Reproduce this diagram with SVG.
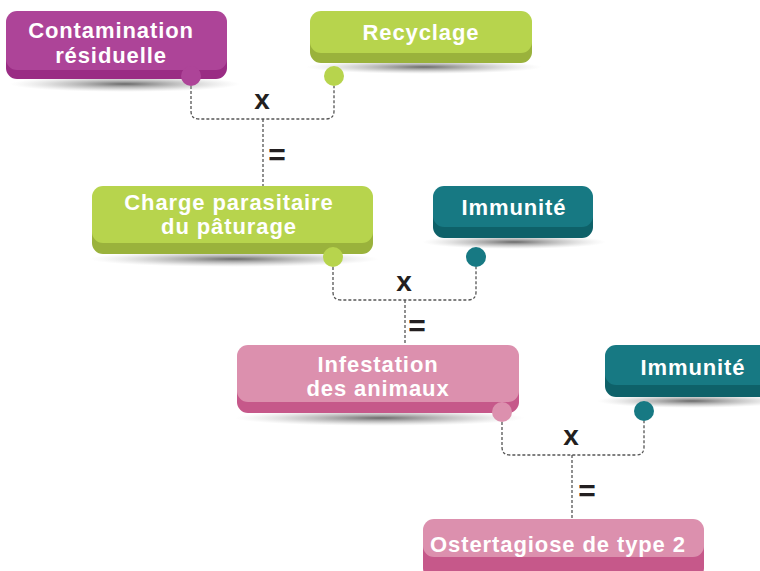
<svg xmlns="http://www.w3.org/2000/svg" width="760" height="571" viewBox="0 0 760 571">
<defs>
<radialGradient id="sh" cx="0.5" cy="0.5" r="0.5">
<stop offset="0" stop-color="#444" stop-opacity="0.8"/>
<stop offset="0.6" stop-color="#888" stop-opacity="0.35"/>
<stop offset="1" stop-color="#bbb" stop-opacity="0"/>
</radialGradient>
<style>
.t{font-family:"Liberation Sans",Arial,sans-serif;font-weight:bold;font-size:22px;fill:#fff;text-anchor:middle;letter-spacing:0.9px}
.op{font-family:"Liberation Sans",Arial,sans-serif;font-weight:bold;fill:#231f20;text-anchor:middle}
.c{fill:none;stroke:#555;stroke-width:1.3;stroke-dasharray:3 2}
.mT{fill:#ad4498}.mD{fill:#9a2c84}
.gT{fill:#b7d44d}.gD{fill:#9ab23c}
.tT{fill:#177983}.tD{fill:#0e6169}
.pT{fill:#dc90ae}.pD{fill:#c6588a}
</style>
</defs>
<rect width="760" height="571" fill="#fff"/>
<g id="connectors">
<path class="c" d="M191 86 V111 Q191 119 199 119 H326 Q334 119 334 111 V86 M263 119 V186"/>
<path class="c" d="M333 267 V292 Q333 300 341 300 H468 Q476 300 476 292 V267 M405 300 V345"/>
<path class="c" d="M502 422 V447 Q502 455 510 455 H636 Q644 455 644 447 V421 M572 455 V519"/>
<text class="op" x="262" y="109" font-size="28">x</text>
<text class="op" x="277" y="165" font-size="30">=</text>
<text class="op" x="404" y="291" font-size="28">x</text>
<text class="op" x="417" y="336" font-size="30">=</text>
<text class="op" x="571" y="445" font-size="28">x</text>
<text class="op" x="587" y="501" font-size="30">=</text>
</g>
<g id="contamination">
<ellipse cx="125" cy="84" rx="115" ry="8" fill="url(#sh)"/>
<rect class="mD" x="6" y="15" width="221" height="64" rx="11"/>
<rect class="mT" x="6" y="11" width="221" height="59" rx="11"/>
<circle class="mT" cx="191" cy="76" r="10"/>
<text class="t" x="111" y="38">Contamination</text>
<text class="t" x="111" y="63">résiduelle</text>
</g>
<g id="recyclage">
<ellipse cx="424" cy="67" rx="118" ry="7" fill="url(#sh)"/>
<rect class="gD" x="310" y="15" width="222" height="48" rx="11"/>
<rect class="gT" x="310" y="11" width="222" height="42" rx="11"/>
<circle class="gT" cx="334" cy="76" r="10"/>
<text class="t" x="421" y="40">Recyclage</text>
</g>
<g id="charge">
<ellipse cx="234" cy="259" rx="145" ry="8" fill="url(#sh)"/>
<rect class="gD" x="92" y="190" width="281" height="64" rx="11"/>
<rect class="gT" x="92" y="186" width="281" height="57" rx="11"/>
<circle class="gT" cx="333" cy="257" r="10"/>
<text class="t" x="229" y="210">Charge parasitaire</text>
<text class="t" x="229" y="234">du pâturage</text>
</g>
<g id="immunite1">
<ellipse cx="514" cy="242" rx="92" ry="7" fill="url(#sh)"/>
<rect class="tD" x="433" y="190" width="160" height="48" rx="11"/>
<rect class="tT" x="433" y="186" width="160" height="41" rx="11"/>
<circle class="tT" cx="476" cy="257" r="10"/>
<text class="t" x="514" y="215">Immunité</text>
</g>
<g id="infestation">
<ellipse cx="380" cy="418" rx="145" ry="8" fill="url(#sh)"/>
<rect class="pD" x="237" y="349" width="282" height="64" rx="11"/>
<rect class="pT" x="237" y="345" width="282" height="57" rx="11"/>
<circle class="pT" cx="502" cy="412" r="10"/>
<text class="t" x="378" y="372">Infestation</text>
<text class="t" x="378" y="396">des animaux</text>
</g>
<g id="immunite2">
<ellipse cx="692" cy="401" rx="95" ry="7" fill="url(#sh)"/>
<rect class="tD" x="605" y="349" width="175" height="48" rx="11"/>
<rect class="tT" x="605" y="345" width="175" height="40" rx="11"/>
<circle class="tT" cx="644" cy="411" r="10"/>
<text class="t" x="693" y="375">Immunité</text>
</g>
<g id="ostertagiose">
<rect class="pD" x="423" y="523" width="281" height="56" rx="11"/>
<rect class="pT" x="423" y="519" width="281" height="38" rx="11"/>
<text class="t" x="558" y="552">Ostertagiose de type 2</text>
</g>
</svg>
